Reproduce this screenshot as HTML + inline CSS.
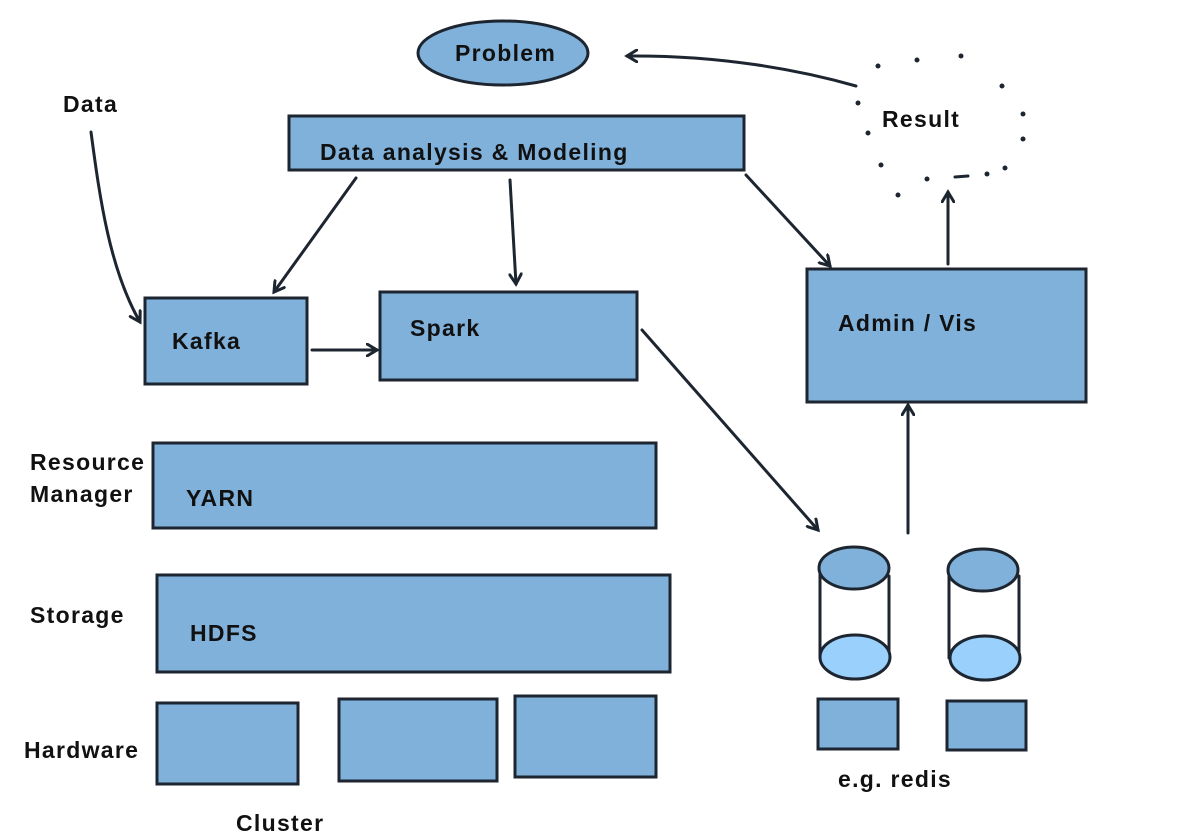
<!DOCTYPE html>
<html><head><meta charset="utf-8"><style>
html,body{margin:0;padding:0;background:#fff;}
svg{display:block}
text{font-family:"Liberation Sans",sans-serif;font-weight:bold;font-size:23px;letter-spacing:1.3px;fill:#111;}
.b{fill:#80b1da;stroke:#1d2630;stroke-width:3;}
.l{fill:none;stroke:#1d2630;stroke-width:3;stroke-linecap:round;}
</style></head><body>
<svg width="1204" height="838" viewBox="0 0 1204 838" xmlns="http://www.w3.org/2000/svg">
<defs><marker id="a" markerWidth="14" markerHeight="14" refX="11" refY="7" orient="auto" markerUnits="userSpaceOnUse"><path d="M1,1 L11,7 L1,13" fill="none" stroke="#1d2630" stroke-width="3" stroke-linecap="round"/></marker></defs>
<ellipse class="b" cx="503" cy="53" rx="85" ry="32"/>
<text x="455" y="61">Problem</text>
<rect class="b" x="289" y="116" width="455" height="54"/>
<text x="320" y="160">Data analysis &amp; Modeling</text>
<text x="63" y="112">Data</text>
<rect class="b" x="145" y="298" width="162" height="86"/>
<text x="172" y="349">Kafka</text>
<rect class="b" x="380" y="292" width="257" height="88"/>
<text x="410" y="336">Spark</text>
<rect class="b" x="807" y="269" width="279" height="133"/>
<text x="838" y="331">Admin / Vis</text>
<rect class="b" x="153" y="443" width="503" height="85"/>
<text x="186" y="506">YARN</text>
<text x="30" y="470">Resource</text><text x="30" y="502">Manager</text>
<rect class="b" x="157" y="575" width="513" height="97"/>
<text x="190" y="641">HDFS</text>
<text x="30" y="623">Storage</text>
<rect class="b" x="157" y="703" width="141" height="81"/>
<rect class="b" x="339" y="699" width="158" height="82"/>
<rect class="b" x="515" y="696" width="141" height="81"/>
<text x="24" y="758">Hardware</text>
<text x="236" y="831">Cluster</text>
<g>
<line class="l" x1="820" y1="572" x2="820" y2="658"/><line class="l" x1="889" y1="576" x2="889" y2="656"/>
<ellipse cx="855" cy="657" rx="35" ry="22" fill="#99d0fc" stroke="#1d2630" stroke-width="3"/>
<ellipse class="b" cx="854" cy="568" rx="35" ry="21"/>
<line class="l" x1="949" y1="576" x2="949" y2="658"/><line class="l" x1="1019" y1="576" x2="1019" y2="656"/>
<ellipse cx="985" cy="658" rx="35" ry="22" fill="#99d0fc" stroke="#1d2630" stroke-width="3"/>
<ellipse class="b" cx="983" cy="570" rx="35" ry="21"/>
</g>
<rect class="b" x="818" y="699" width="80" height="50"/>
<rect class="b" x="947" y="701" width="79" height="49"/>
<text x="838" y="787">e.g. redis</text>
<text x="882" y="127">Result</text>
<g fill="#1d2630">
<circle cx="878" cy="66" r="2.5"/><circle cx="917" cy="60" r="2.5"/><circle cx="961" cy="56" r="2.5"/>
<circle cx="1002" cy="86" r="2.5"/><circle cx="1023" cy="114" r="2.5"/><circle cx="1023" cy="139" r="2.5"/>
<circle cx="1005" cy="168" r="2.5"/><circle cx="987" cy="174" r="2.5"/><circle cx="927" cy="179" r="2.5"/>
<circle cx="881" cy="165" r="2.5"/><circle cx="868" cy="133" r="2.5"/><circle cx="858" cy="103" r="2.5"/>
<circle cx="898" cy="195" r="2.5"/>
</g>
<path class="l" d="M955,177 L968,176"/>
<path class="l" d="M856,86 C800,70 720,55 627,56" marker-end="url(#a)"/>
<path class="l" d="M91,132 C100,200 110,270 140,322" marker-end="url(#a)"/>
<path class="l" d="M356,178 L274,292" marker-end="url(#a)"/>
<path class="l" d="M510,180 L516,284" marker-end="url(#a)"/>
<path class="l" d="M746,175 L830,266" marker-end="url(#a)"/>
<path class="l" d="M312,350 L377,350" marker-end="url(#a)"/>
<path class="l" d="M642,330 L818,530" marker-end="url(#a)"/>
<path class="l" d="M908,533 L908,405" marker-end="url(#a)"/>
<path class="l" d="M948,264 L948,192" marker-end="url(#a)"/>
</svg>
</body></html>
